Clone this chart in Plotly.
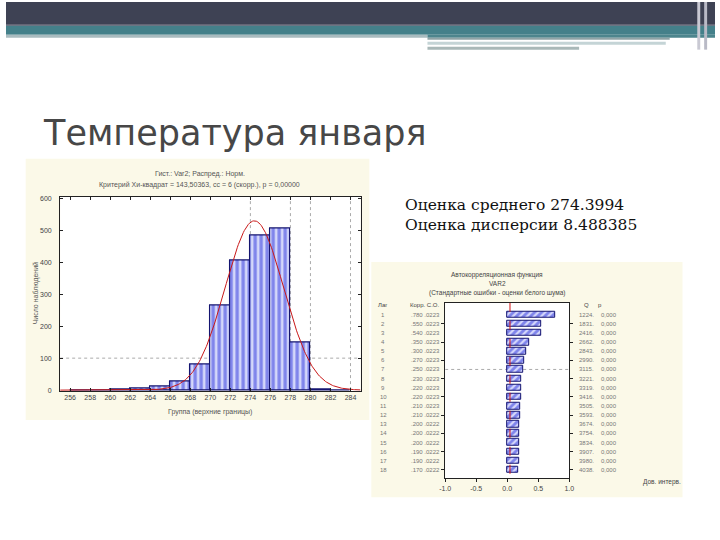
import numpy as np
import plotly.graph_objects as go

W, H = 720, 540
def px(x): return x / W
def py(y): return 1 - y / H

# ---------------- data ----------------
slide_title = "Температура января"
est_lines = ["Оценка среднего 274.3994", "Оценка дисперсии 8.488385"]

# histogram (upper bin bounds and counts)
bin_upper = [258, 260, 262, 264, 266, 268, 270, 272, 274, 276, 278, 280, 282, 284]
counts = [0, 0, 1, 4, 12, 27, 80, 266, 405, 484, 506, 148, 1, 0]
bin_width = 2
x_ticks = [256, 258, 260, 262, 264, 266, 268, 270, 272, 274, 276, 278, 280, 282, 284]
y_ticks = [0, 100, 200, 300, 400, 500, 600]
mean_est = 274.3994
var_est = 8.488385
hist_title = ["Гист.: Var2; Распред.: Норм.",
              "Критерий Хи-квадрат = 143,50363, сс = 6 (скорр.), p = 0,00000"]
hist_xlabel = "Группа (верхние границы)"
hist_ylabel = "Число наблюдений"

# autocorrelation
lags = list(range(1, 19))
acf = [0.78, 0.55, 0.54, 0.35, 0.30, 0.27, 0.25, 0.23, 0.22, 0.22, 0.21, 0.21,
       0.20, 0.20, 0.20, 0.19, 0.19, 0.17]
acf_se = [".0223", ".0223", ".0223", ".0223", ".0223", ".0223", ".0223", ".0223", ".0223",
          ".0223", ".0223", ".0222", ".0222", ".0222", ".0222", ".0222", ".0222", ".0222"]
q_vals = ["1224.", "1831.", "2416.", "2662.", "2843.", "2990.", "3115.", "3221.", "3319.",
          "3416.", "3505.", "3593.", "3674.", "3754.", "3834.", "3907.", "3980.", "4038."]
p_vals = ["0,000"] * 18
acf_x_ticks = [-1.0, -0.5, 0.0, 0.5, 1.0]
acf_title = ["Автокорреляционная функция", "VAR2",
             "(Стандартные ошибки - оценки белого шума)"]
acf_headers = ["Лаг", "Корр. С.О.", "Q", "p"]
conf_label = "Дов. интерв."

# ---------------- figure ----------------
fig = go.Figure()

# histogram bars
centers = [u - bin_width / 2 for u in bin_upper]
fig.add_trace(go.Bar(
    x=centers, y=counts, width=bin_width, xaxis="x", yaxis="y",
    marker=dict(color="#6f76ec", line=dict(color="#141470", width=1.2),
                pattern=dict(shape="|", fgcolor="#2a32dc", bgcolor="#d4d7fa",
                             size=6, solidity=0.55)),
    showlegend=False, hoverinfo="skip"))

# fitted normal curve from the stated estimates
sd = np.sqrt(var_est)
xc = np.linspace(255, 285, 301)
yc = sum(counts) * bin_width * np.exp(-(xc - mean_est) ** 2 / (2 * var_est)) / (sd * np.sqrt(2 * np.pi))
fig.add_trace(go.Scatter(x=xc, y=yc, mode="lines", xaxis="x", yaxis="y",
                         line=dict(color="#c81818", width=1),
                         showlegend=False, hoverinfo="skip"))

# autocorrelation bars
fig.add_trace(go.Bar(
    x=acf, y=lags, orientation="h", width=0.72, xaxis="x2", yaxis="y2",
    marker=dict(color="#6f76ec", line=dict(color="#141470", width=1),
                pattern=dict(shape="/", fgcolor="#2a32dc", bgcolor="#d4d7fa",
                             size=5, solidity=0.55)),
    showlegend=False, hoverinfo="skip"))

tickfont = dict(family="Liberation Sans, Arial", size=7, color="#444")

fig.update_layout(
    width=W, height=H, margin=dict(l=0, r=0, t=0, b=0),
    paper_bgcolor="white", plot_bgcolor="white",
    bargap=0,
    xaxis=dict(domain=[px(55), px(360)], range=[255, 285], anchor="y",
               tickvals=x_ticks, ticktext=[str(t) for t in x_ticks],
               ticks="inside", ticklen=3, tickcolor="#222",
               showline=True, linecolor="#222", linewidth=1, mirror="ticks",
               showgrid=False, zeroline=False, tickfont=tickfont),
    yaxis=dict(domain=[py(392), py(196)], range=[-3.1, 605.6], anchor="x",
               tickvals=y_ticks, ticks="inside", ticklen=3, tickcolor="#222",
               showline=True, linecolor="#222", linewidth=1, mirror="ticks",
               showgrid=False, zeroline=False, tickfont=tickfont,
               ticklabelstandoff=6),
    xaxis2=dict(domain=[px(446), px(572)], range=[-1, 1], anchor="y2",
                tickvals=acf_x_ticks, ticktext=["-1.0", "-0.5", "0.0", "0.5", "1.0"],
                ticks="outside", ticklen=3, tickcolor="#222",
                showline=True, linecolor="#222", linewidth=1, mirror=True,
                showgrid=False, zeroline=False, tickfont=tickfont),
    yaxis2=dict(domain=[py(480), py(303)], range=[18.93, -0.30], anchor="x2",
                tickvals=lags[1::2], showticklabels=False,
                ticks="outside", ticklen=3, tickcolor="#222",
                showline=True, linecolor="#222", linewidth=1, mirror="ticks",
                showgrid=False, zeroline=False),
)

shapes = []
def rect(x0, y0, x1, y1, color, layer="below"):
    shapes.append(dict(type="rect", xref="paper", yref="paper",
                       x0=px(x0), x1=px(x1), y0=py(y1), y1=py(y0),
                       fillcolor=color, line=dict(width=0), layer=layer))

# image panels (cream) and white plot areas
rect(20, 158, 369, 421, "#fbf9e8")
rect(371, 262, 687, 499, "#fbf9e8")
rect(55, 196, 360, 392, "white")
rect(446, 303, 572, 480, "white")

# header bands
rect(0, 0, 720, 23, "#3e4254", "above")
rect(0, 23, 720, 24, "#4a4458", "above")
rect(0, 24, 720, 33, "#44808a", "above")
rect(0, 33, 428, 36, "#a9bbbf", "above")
rect(428, 33, 720, 36, "#4d858d", "above")
rect(428, 36, 674, 38, "#8fa3a6", "above")
rect(428, 40, 670, 43, "#c4d4d6", "above")
rect(428, 45, 582, 48, "#a9b8b8", "above")
rect(702, 0, 705, 48, "#c9c9d3", "above")
rect(709, 0, 712, 48, "#b9bac6", "above")

# dotted grid lines in histogram
for gx in [274, 278, 280, 284]:
    shapes.append(dict(type="line", xref="x", yref="y", x0=gx, x1=gx, y0=0, y1=605.6,
                       line=dict(color="#aaaaaa", width=1, dash="dot"), layer="below"))
shapes.append(dict(type="line", xref="x", yref="y", x0=255, x1=285, y0=100, y1=100,
                   line=dict(color="#aaaaaa", width=1, dash="dot"), layer="below"))
# acf grid and confidence limit
shapes.append(dict(type="line", xref="x2", yref="y2", x0=-1, x1=1, y0=7, y1=7,
                   line=dict(color="#aaaaaa", width=1, dash="dot"), layer="below"))
shapes.append(dict(type="line", xref="x2", yref="y2", x0=0.0446, x1=0.0446, y0=-0.3, y1=18.93,
                   line=dict(color="#d01010", width=1, dash="dash"), layer="above"))
fig.update_layout(shapes=shapes)

ann = []
def text(x, y, s, size=7, color="#444", xanchor="center", family="Liberation Sans, Arial",
         angle=0):
    ann.append(dict(xref="paper", yref="paper", x=px(x), y=py(y), text=s, showarrow=False,
                    xanchor=xanchor, yanchor="middle", textangle=angle,
                    font=dict(family=family, size=size, color=color)))

text(36, 132, slide_title, size=35, color="#474747", xanchor="left", family="DejaVu Sans")
text(403, 205, est_lines[0], size=15.5, color="#111", xanchor="left", family="DejaVu Serif")
text(403, 225, est_lines[1], size=15.5, color="#111", xanchor="left", family="DejaVu Serif")

text(197, 173, hist_title[0], color="#555")
text(197, 184, hist_title[1], color="#555")
text(207, 413, hist_xlabel, color="#555")
text(30, 294, hist_ylabel, angle=-90, color="#555")

for i, t in enumerate(acf_title):
    text(499, 275 + 9 * i, t, size=6.5)
text(383, 305, acf_headers[0], size=6)
text(425, 305, acf_headers[1], size=6)
text(589, 305, acf_headers[2], size=6)
text(603, 305, acf_headers[3], size=6)
for i, lag in enumerate(lags):
    yy = 315 + 9.2 * i
    text(383, yy, str(lag), size=6, color="#777")
    text(443, yy, (f"{acf[i]:.3f}").lstrip("0") + " " + acf_se[i], size=6, color="#777",
         xanchor="right")
    text(599, yy, q_vals[i], size=6, color="#777", xanchor="right")
    text(602, yy, p_vals[i], size=6, color="#777", xanchor="left")
text(666, 484, conf_label, size=6.5)

fig.update_layout(annotations=ann)
fig.write_html("out.html", config={"displayModeBar": False},
               post_script="document.body.style.margin='0';")
